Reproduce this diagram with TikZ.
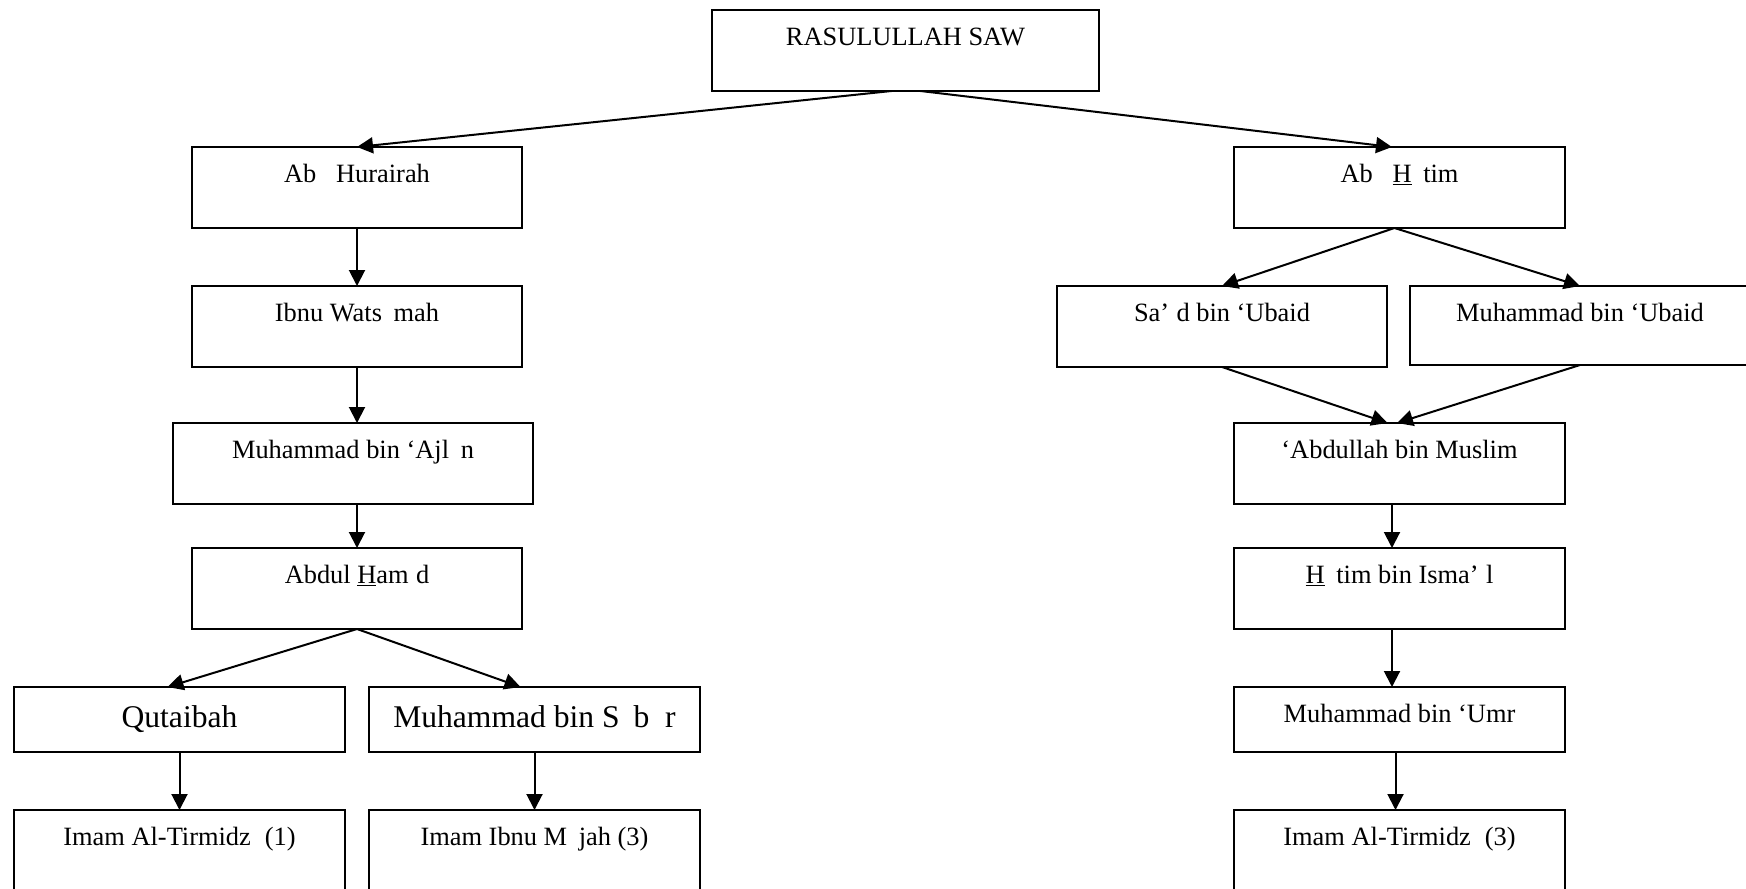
\documentclass[tikz,border=0pt]{standalone}
\usepackage{fontspec}
\setmainfont{Liberation Serif}
\usetikzlibrary{arrows.meta}

\tikzset{
  box/.style={draw, line width=0.9pt, anchor=north west, inner sep=0pt, outer sep=0pt,
              align=center, font=\fontsize{13.2}{15}\selectfont},
  tall/.style={text height=17.5pt, text depth=23pt},
  short/.style={text height=17.5pt, text depth=15pt},
  shortbig/.style={text height=20pt, text depth=12.5pt, font=\fontsize{15.8}{18}\selectfont},
  open/.style={text height=17.5pt, text depth=33pt},
  wd/.style={minimum width=#1},
  arr/.style={-{Triangle[length=8pt,width=8pt]}, line width=1pt}
}

\begin{document}
\begin{tikzpicture}[x=0.5pt, y=-0.5pt]
\useasboundingbox (0,0) rectangle (1746,889);

% top of the chain
\node[box, tall, wd=193.5pt] (rasul) at (712,10) {RASULULLAH SAW};

% left branch
\node[box, tall, wd=165pt] (hurairah) at (192,147) {Ab\hspace{.5em} Hurairah};
\node[box, tall, wd=165pt] (watsamah) at (192,286) {Ibnu Wats\hspace{.44em}mah};
\node[box, tall, wd=180pt] (ajlan) at (173,423) {Muhammad bin ‘Ajl\hspace{.44em}n};
\node[box, tall, wd=165pt] (hamid) at (192,548) {Abdul \underline{H}am\hspace{.278em}d};
\node[box, shortbig, wd=165.5pt] (qutaibah) at (14,687) {Qutaibah};
\node[box, shortbig, wd=165.5pt] (sabur) at (369,687) {Muhammad bin S\hspace{.44em}b\hspace{.5em}r};
\node[box, open, wd=165.5pt] (tirmidzia) at (14,810) {Imam Al-Tirmidz\hspace{.278em} (1)};
\node[box, open, wd=165.5pt] (majah) at (369,810) {Imam Ibnu M\hspace{.44em}jah (3)};

% right branch
\node[box, tall, wd=165.5pt] (hatim) at (1234,147) {Ab\hspace{.5em} \underline{H}\hspace{.44em}tim};
\node[box, tall, wd=165pt] (said) at (1057,286) {Sa’\hspace{.278em}d bin ‘Ubaid};
\node[box, text height=17.5pt, text depth=22pt, wd=170pt] (ubaid) at (1410,286) {Muhammad bin ‘Ubaid};
\node[box, tall, wd=165.5pt] (abdullah) at (1234,423) {‘Abdullah bin Muslim};
\node[box, tall, wd=165.5pt] (ismail) at (1234,548) {\underline{H}\hspace{.44em}tim bin Isma’\hspace{.278em}l};
\node[box, short, wd=165.5pt] (umr) at (1234,687) {Muhammad bin ‘Umr};
\node[box, open, wd=165.5pt] (tirmidzib) at (1234,810) {Imam Al-Tirmidz\hspace{.278em} (3)};

% connectors
\draw[arr] ([xshift=-7pt]rasul.south) -- (hurairah.north);
\draw[arr] ([xshift=7.5pt]rasul.south) -- ([xshift=-3.75pt]hatim.north);

\draw[arr] (hurairah.south) -- (watsamah.north);
\draw[arr] (watsamah.south) -- ([xshift=2pt]ajlan.north);
\draw[arr] ([xshift=2pt]ajlan.south) -- (hamid.north);
\draw[arr] (hamid.south) -- ([xshift=-6pt]qutaibah.north);
\draw[arr] (hamid.south) -- ([xshift=-7pt]sabur.north);
\draw[arr] (qutaibah.south) -- (tirmidzia.north);
\draw[arr] (sabur.south) -- (majah.north);

\draw[arr] ([xshift=-2.5pt]hatim.south) -- (said.north);
\draw[arr] ([xshift=-2.5pt]hatim.south) -- (ubaid.north);
\draw[arr] (said.south) -- ([xshift=-6pt]abdullah.north);
\draw[arr] (ubaid.south) -- ([xshift=-1.25pt]abdullah.north);
\draw[arr] ([xshift=-3.75pt]abdullah.south) -- ([xshift=-3.75pt]ismail.north);
\draw[arr] ([xshift=-3.75pt]ismail.south) -- ([xshift=-3.75pt]umr.north);
\draw[arr] ([xshift=-2pt]umr.south) -- ([xshift=-2pt]tirmidzib.north);
\end{tikzpicture}
\end{document}
